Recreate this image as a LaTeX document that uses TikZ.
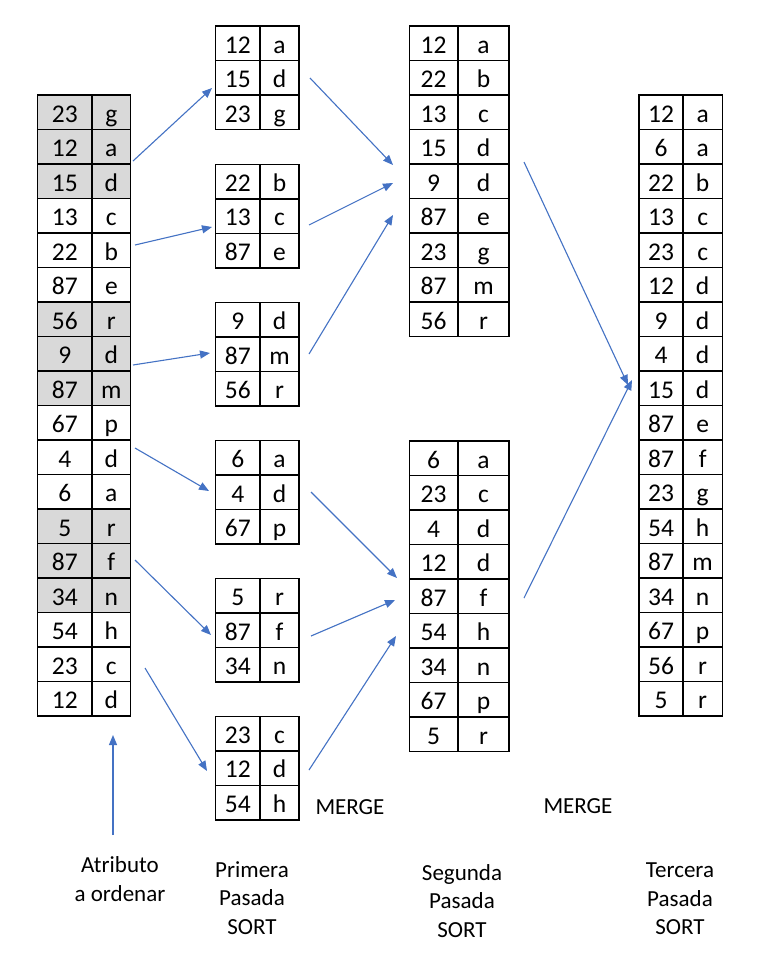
\documentclass[tikz,border=0pt]{standalone}
\usepackage{fontspec}
\setmainfont{Carlito}
\usetikzlibrary{arrows.meta}
\definecolor{shade}{HTML}{D9D9D9}
\definecolor{arrblue}{HTML}{4472C4}
\tikzset{
 cell/.style={draw=black, line width=1.4pt, inner sep=0pt, outer sep=0pt, minimum height=34.5pt, text height=19.5pt, text depth=0pt, anchor=north west, font=\fontsize{25.5}{25.5}\selectfont},
 conn/.style={draw=arrblue, line width=1.1pt, -{Triangle[length=10pt,width=8pt]}},
 lbl/.style={align=center, font=\fontsize{23}{28.5}\selectfont, inner sep=0pt}
}
\newcommand\mktable[6]{%
 \foreach \n/\l/\f [count=\i] in {#6}{%
  \node[cell, fill=\f, minimum width=#3pt] (#1n\i) at (#2, {#5+(\i-1)*34.5}) {\n};
  \node[cell, fill=\f, minimum width=#4pt] (#1l\i) at (#1n\i.north east) {\l};
 }}
\begin{document}
\begin{tikzpicture}[x=1pt,y=-1pt]
\useasboundingbox[fill=white] (0,0) rectangle (783,977);
% left table
\mktable{L}{37.5}{54.5}{38.7}{95}{23/g/shade,12/a/shade,15/d/shade,13/c/white,22/b/white,87/e/white,56/r/shade,9/d/shade,87/m/shade,67/p/white,4/d/white,6/a/white,5/r/shade,87/f/shade,34/n/shade,54/h/white,23/c/white,12/d/white}
% first pass
\mktable{Pa}{215.7}{44.3}{39}{26}{12/a/white,15/d/white,23/g/white}
\mktable{Pb}{215.7}{44.3}{39}{164.3}{22/b/white,13/c/white,87/e/white}
\mktable{Pc}{215.7}{44.3}{39}{302.5}{9/d/white,87/m/white,56/r/white}
\mktable{Pd}{215.7}{44.3}{39}{440.5}{6/a/white,4/d/white,67/p/white}
\mktable{Pe}{215.7}{44.3}{39}{578.5}{5/r/white,87/f/white,34/n/white}
\mktable{Pf}{215.7}{44.3}{39}{716.3}{23/c/white,12/d/white,54/h/white}
% second pass
\mktable{Sa}{409.3}{48.7}{51}{26}{12/a/white,22/b/white,13/c/white,15/d/white,9/d/white,87/e/white,23/g/white,87/m/white,56/r/white}
\mktable{Sb}{409.3}{48.7}{51}{441}{6/a/white,23/c/white,4/d/white,12/d/white,87/f/white,54/h/white,34/n/white,67/p/white,5/r/white}
% third pass
\mktable{T}{639}{44}{39.3}{95}{12/a/white,6/a/white,22/b/white,13/c/white,23/c/white,12/d/white,9/d/white,4/d/white,15/d/white,87/e/white,87/f/white,23/g/white,54/h/white,87/m/white,34/n/white,67/p/white,56/r/white,5/r/white}
% connector ends
\coordinate (a1s) at (133,161); \coordinate (a1e) at (212,88);
\coordinate (a2s) at (135,245); \coordinate (a2e) at (212,227);
\coordinate (a3s) at (133,365); \coordinate (a3e) at (210,353);
\coordinate (a4s) at (135,448); \coordinate (a4e) at (209,491);
\coordinate (a5s) at (135,560); \coordinate (a5e) at (211,635);
\coordinate (a6s) at (145,668); \coordinate (a6e) at (207,771);
\coordinate (b1s) at (310,78);  \coordinate (b1e) at (393,165);
\coordinate (b2s) at (309,225); \coordinate (b2e) at (393,183);
\coordinate (b3s) at (309,354); \coordinate (b3e) at (393,215);
\coordinate (b4s) at (311,492); \coordinate (b4e) at (397,578);
\coordinate (b5s) at (311,636); \coordinate (b5e) at (395,600);
\coordinate (b6s) at (309,770); \coordinate (b6e) at (396,636);
\coordinate (c1s) at (524,162); \coordinate (c1e) at (628,385);
\coordinate (c2s) at (524,598); \coordinate (c2e) at (632,380);
\coordinate (v0) at (113,835);  \coordinate (v1) at (113,735);
\foreach \p in {a1,a2,a3,a4,a5,a6,b1,b2,b3,b4,b5,b6,c1,c2}{\draw[conn] (\p s) -- (\p e);}
\draw[conn] (v0) -- (v1);
% labels
\node[lbl] (atr) at (120,879) {Atributo\\a ordenar};
\node[lbl] (pri) at (252,898) {Primera\\Pasada\\SORT};
\node[lbl] (seg) at (462,901) {Segunda\\Pasada\\SORT};
\node[lbl] (ter) at (680,899) {Tercera\\Pasada\\SORT};
\node[lbl] (m1) at (350,807) {MERGE};
\node[lbl] (m2) at (578,806) {MERGE};
\end{tikzpicture}
\end{document}
